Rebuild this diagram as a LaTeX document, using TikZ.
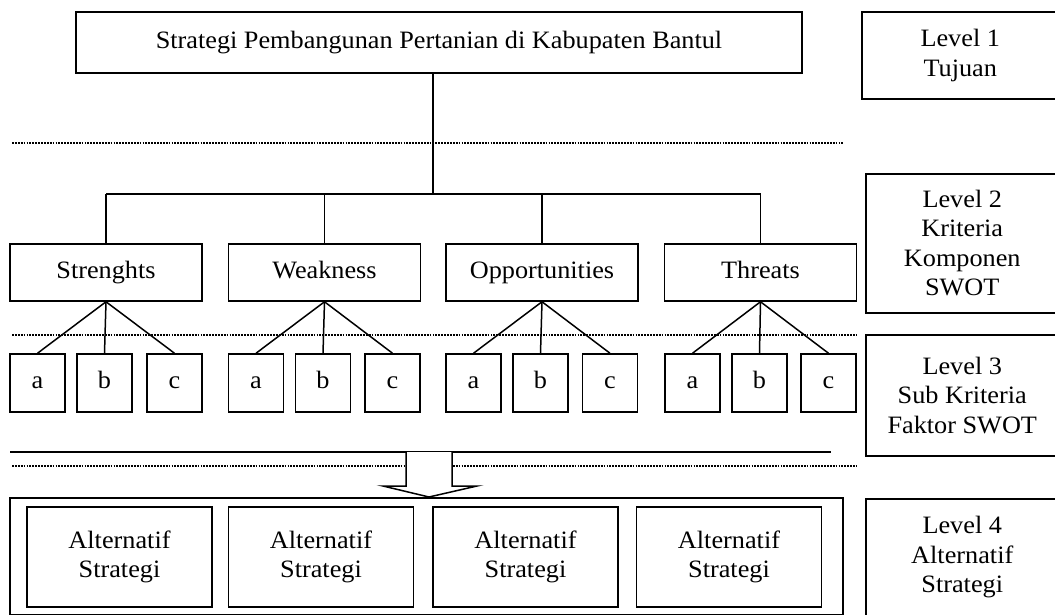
\documentclass[tikz,border=0pt]{standalone}
\usepackage{fontspec}
\setmainfont{Liberation Serif}[FakeStretch=1.05]
\usepackage{tikz}
\tikzstyle{line} = [line width=1.5pt]
\tikzstyle{dotline} = [line width=2.6pt, dash pattern=on 1.8pt off 1.1pt]
\tikzstyle{box} = [rectangle, draw=black, line width=1.5pt, text centered,
inner sep=0pt, font=\fontsize{25}{29.5}\selectfont]
\tikzstyle{textbox} = [box, align=center]
\tikzstyle{mainbox} = [box, minimum width=192pt, minimum height=57pt, text height=17pt, text depth=6pt]
\tikzstyle{subbox} = [box, minimum width=55pt, minimum height=58pt, text height=17pt, text depth=6pt]
\tikzstyle{altbox} = [textbox, minimum width=185pt, minimum height=100pt]
\tikzstyle{levelbox} = [textbox, anchor=north west, minimum width=193pt]

\begin{document}
\begin{tikzpicture}[x=1pt, y=-1pt]
      \useasboundingbox (0,0) rectangle (1055,614);

      \node (goal) [box, minimum width=726pt, minimum height=61pt, text height=17pt, text depth=6pt] at (439,42.5)
            {Strategi Pembangunan Pertanian di Kabupaten Bantul};

      \node (lv1) [levelbox, minimum width=197pt, minimum height=87pt] at (861,11) {Level 1\\Tujuan};
      \node (lv2) [levelbox, minimum height=139pt] at (865,173) {Level 2\\Kriteria\\Komponen\\SWOT};
      \node (lv3) [levelbox, minimum height=121pt] at (865,334) {Level 3\\Sub Kriteria\\Faktor SWOT};
      \node (lv4) [levelbox, minimum height=117pt] at (865,498) {Level 4\\Alternatif\\Strategi};

      \draw [dotline] (12,143) -- (843,143);
      \draw [dotline] (12,335) -- (857,335);
      \draw [dotline] (12,466) -- (857,466);
      \draw [line] (10,452) -- (831,452);

      \node (s) [mainbox] at (106,272.5) {Strenghts};
      \node (w) [mainbox] at (324.5,272.5) {Weakness};
      \node (o) [mainbox] at (542,272.5) {Opportunities};
      \node (t) [mainbox] at (760.5,272.5) {Threats};

      \coordinate (hub) at (433,194);
      \draw [line] (goal.south -| hub) -- (hub);
      \draw [line] (s.north |- hub) -- (t.north |- hub);
      \draw [line] (s.north |- hub) -- (s.north);
      \draw [line] (w.north |- hub) -- (w.north);
      \draw [line] (o.north |- hub) -- (o.north);
      \draw [line] (t.north |- hub) -- (t.north);

      \node (sa) [subbox] at (37.5,383) {a};
      \node (sb) [subbox] at (104.5,383) {b};
      \node (sc) [subbox] at (174.5,383) {c};
      \node (wa) [subbox] at (256,383) {a};
      \node (wb) [subbox] at (323,383) {b};
      \node (wc) [subbox] at (392.5,383) {c};
      \node (oa) [subbox] at (473.5,383) {a};
      \node (ob) [subbox] at (540.5,383) {b};
      \node (oc) [subbox] at (610,383) {c};
      \node (ta) [subbox] at (692.5,383) {a};
      \node (tb) [subbox] at (759.5,383) {b};
      \node (tc) [subbox] at (828.5,383) {c};

      \draw [line] (s.south) -- (sa.north);
      \draw [line] (s.south) -- (sb.north);
      \draw [line] (s.south) -- (sc.north);
      \draw [line] (w.south) -- (wa.north);
      \draw [line] (w.south) -- (wb.north);
      \draw [line] (w.south) -- (wc.north);
      \draw [line] (o.south) -- (oa.north);
      \draw [line] (o.south) -- (ob.north);
      \draw [line] (o.south) -- (oc.north);
      \draw [line] (t.south) -- (ta.north);
      \draw [line] (t.south) -- (tb.north);
      \draw [line] (t.south) -- (tc.north);

      \draw [line, fill=white] (406,452) -- (406,486) -- (383,486) -- (429,497)
            -- (477,486) -- (452,486) -- (452,452);

      \draw [line] (10,498) rectangle (843,615);
      \node (alt1) [altbox] at (119.5,557) {Alternatif\\Strategi};
      \node (alt2) [altbox] at (321,557) {Alternatif\\Strategi};
      \node (alt3) [altbox] at (525.5,557) {Alternatif\\Strategi};
      \node (alt4) [altbox] at (729,557) {Alternatif\\Strategi};
    \end{tikzpicture}
\end{document}
